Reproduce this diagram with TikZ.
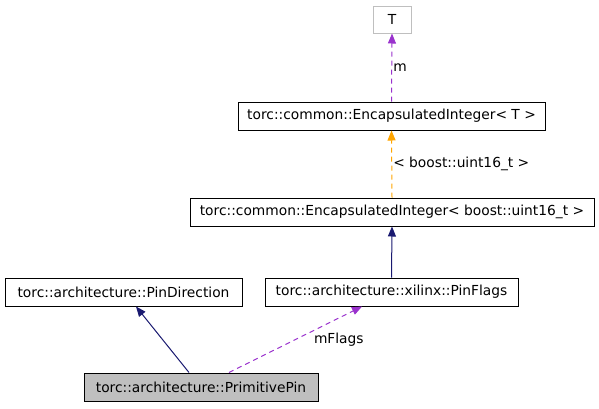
\documentclass[tikz,border=0pt]{standalone}
\usepackage{fontspec}
\setmainfont{DejaVu Sans}
\usetikzlibrary{arrows.meta}
\definecolor{edgeblue}{HTML}{191970}
\definecolor{edgepurple}{HTML}{9A32CD}
\definecolor{edgeorange}{HTML}{FFA500}
\definecolor{boxgray}{HTML}{BFBFBF}
\begin{document}
\begin{tikzpicture}[x=1pt, y=-1pt,
    cls/.style={draw=black, fill=white, line width=1pt, minimum height=28pt, inner xsep=6pt, font=\fontsize{13.8}{16}\selectfont},
    inherit/.style={-{Triangle[length=10pt,width=8pt]}, draw=edgeblue, line width=1pt},
    member/.style={-{Triangle[length=10pt,width=8pt]}, draw=edgepurple, dash pattern=on 5pt off 4pt, line width=1pt},
    templ/.style={-{Triangle[length=10pt,width=8pt]}, draw=edgeorange, dash pattern=on 5pt off 4pt, line width=1pt},
    lbl/.style={font=\fontsize{13.8}{16}\selectfont, inner sep=1pt}]
    \useasboundingbox (0,0) rectangle (599,408);

    % Klassen
    \node[cls, draw=boxgray, minimum width=38pt, minimum height=27pt] (t) at (392,19.5) {T};
    \node[cls, minimum width=307pt] (eit) at (391.5,116) {torc::common::EncapsulatedInteger< T >};
    \node[cls, minimum width=404pt] (eiu) at (392,212) {torc::common::EncapsulatedInteger< boost::uint16\_t >};
    \node[cls, minimum width=237pt] (pd) at (123.5,292) {torc::architecture::PinDirection};
    \node[cls, minimum width=253pt] (pf) at (391.5,292) {torc::architecture::xilinx::PinFlags};
    \node[cls, fill=boxgray, minimum width=234pt] (pp) at (201,387) {torc::architecture::PrimitivePin};

    % Beziehungen
    \draw[member] (eit.north) -- node[lbl, right] {m} (t.south);
    \draw[templ] (eiu.north) -- node[lbl, right] {< boost::uint16\_t >} (eit.south);
    \draw[inherit] (pf.north) -- (eiu.south);
    \draw[inherit] ([xshift=-12pt]pp.north) -- ([xshift=12.5pt]pd.south);
    \draw[member] ([xshift=28pt]pp.north) -- node[lbl, right=17pt] {mFlags} ([xshift=-29.5pt]pf.south);
  \end{tikzpicture}
\end{document}
